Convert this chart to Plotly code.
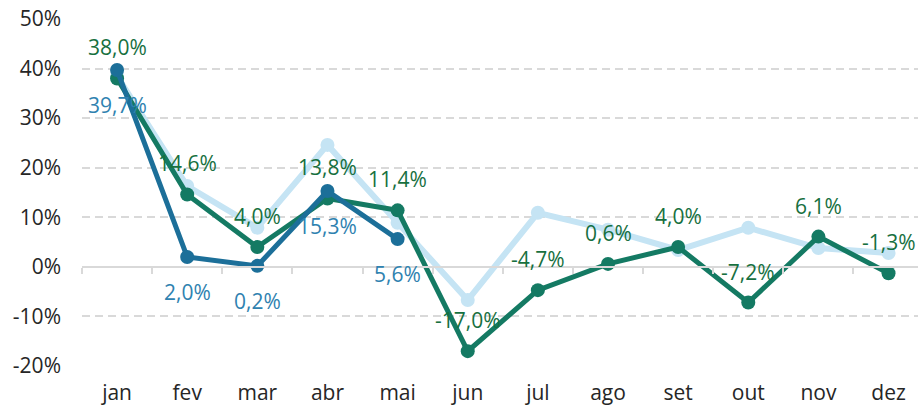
import plotly.graph_objects as go

months = ["jan", "fev", "mar", "abr", "mai", "jun", "jul", "ago", "set", "out", "nov", "dez"]
s_light = [38.5, 16.3, 7.9, 24.6, 8.9, -6.7, 10.9, 7.5, 3.4, 7.9, 3.8, 2.8]
s_green = [38.0, 14.6, 4.0, 13.8, 11.4, -17.0, -4.7, 0.6, 4.0, -7.2, 6.1, -1.3]
s_blue = [39.7, 2.0, 0.2, 15.3, 5.6]
y_ticks = [-20, -10, 0, 10, 20, 30, 40, 50]
y_tick_text = ["-20%", "-10%", "0%", "10%", "20%", "30%", "40%", "50%"]

C_LIGHT = "#c5e4f4"
C_GREEN = "#147a63"
C_BLUE = "#1c6f99"
C_GREEN_TXT = "#17703f"
C_BLUE_TXT = "#2f82b0"
FONT = "Open Sans"
FS = 21

def fmt(v):
    return f"{v:.1f}%".replace(".", ",")

fig = go.Figure()
fig.add_trace(go.Scatter(x=months, y=s_light, mode="lines+markers", name="light",
                         line=dict(color=C_LIGHT, width=6), marker=dict(color=C_LIGHT, size=14),
                         hoverinfo="skip"))
fig.add_trace(go.Scatter(x=months, y=s_green, mode="lines+markers", name="green",
                         line=dict(color=C_GREEN, width=5), marker=dict(color=C_GREEN, size=14)))
fig.add_trace(go.Scatter(x=months[:len(s_blue)], y=s_blue, mode="lines+markers", name="blue",
                         line=dict(color=C_BLUE, width=5), marker=dict(color=C_BLUE, size=14)))
# helper axis for zero-line tick marks at category boundaries
bounds = [i - 0.5 for i in range(len(months) + 1)]
fig.add_trace(go.Scatter(x=bounds, y=[0] * len(bounds), xaxis="x2", mode="lines",
                         line=dict(width=0, color="rgba(0,0,0,0)"), hoverinfo="skip", showlegend=False))

annotations = []
for m, v in zip(months, s_green):
    annotations.append(dict(x=m, y=v, text=fmt(v), showarrow=False, yshift=31,
                            font=dict(color=C_GREEN_TXT, size=FS, family=FONT)))
for m, v in zip(months, s_blue):
    annotations.append(dict(x=m, y=v, text=fmt(v), showarrow=False, yshift=-35,
                            font=dict(color=C_BLUE_TXT, size=FS, family=FONT)))

RIGHT = 11.42
fig.update_layout(
    width=918, height=408,
    margin=dict(l=82, r=0, t=19, b=42, autoexpand=False),
    paper_bgcolor="white", plot_bgcolor="white",
    showlegend=False,
    font=dict(family=FONT, size=FS, color="#262626"),
    annotations=annotations,
    xaxis=dict(type="category", range=[-0.5, RIGHT], showgrid=False, showline=False,
               zeroline=False, ticks="", ticklabelstandoff=12, automargin=False,
               tickfont=dict(size=FS, color="#262626")),
    xaxis2=dict(overlaying="x", anchor="free", position=20 / 70, range=[-0.5, RIGHT],
                showline=True, linecolor="#d9d9d9", linewidth=2, ticks="outside",
                tickvals=bounds, ticklen=6, tickcolor="#d9d9d9", tickwidth=2,
                showticklabels=False, showgrid=False, zeroline=False, side="bottom",
                automargin=False),
    yaxis=dict(range=[-20, 50], tickvals=y_ticks, ticktext=y_tick_text, showgrid=True,
               gridcolor="#d9d9d9", gridwidth=2, griddash="8px,5px", zeroline=False,
               showline=False, ticks="", ticklabelstandoff=20, automargin=False,
               tickfont=dict(size=FS, color="#262626")),
)

fig.write_html("out.html")
